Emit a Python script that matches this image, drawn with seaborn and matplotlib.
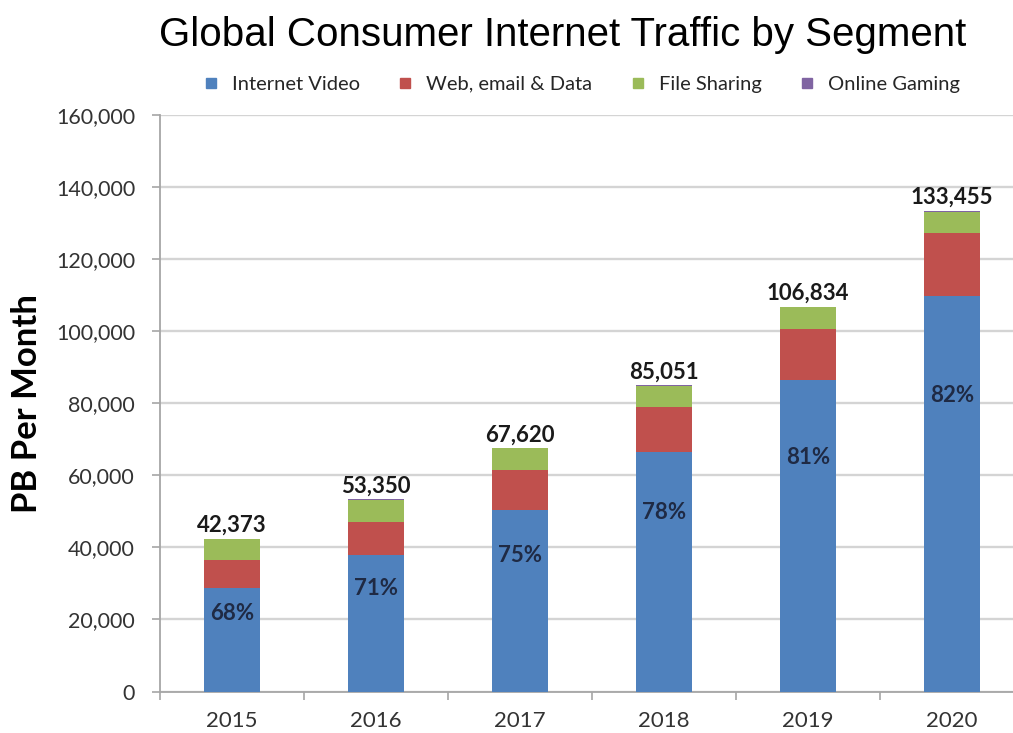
import numpy as np
import pandas as pd
import matplotlib
matplotlib.use("Agg")
import matplotlib.pyplot as plt
from matplotlib.lines import Line2D
from matplotlib.ticker import FuncFormatter
import seaborn as sns

# Consumer internet traffic, PB per month, by segment
years = ["2015", "2016", "2017", "2018", "2019", "2020"]
internet_video = [28800, 38000, 50500, 66400, 86600, 109700]
web_email_data = [7600, 9000, 11000, 12500, 14000, 17500]
file_sharing = [5900, 6250, 6000, 6000, 6050, 6000]
online_gaming = [73, 100, 120, 151, 184, 255]
segments = ["Internet Video", "Web, email & Data", "File Sharing", "Online Gaming"]
colors = ["#4F81BD", "#C0504D", "#9BBB59", "#8064A2"]

df = pd.DataFrame({
    "year": years,
    "Internet Video": internet_video,
    "Web, email & Data": web_email_data,
    "File Sharing": file_sharing,
    "Online Gaming": online_gaming,
})
cum = df[segments].cumsum(axis=1)
df["total"] = df[segments].sum(axis=1)

sns.set_theme(style="white")
plt.rcParams["font.family"] = ["Lato", "DejaVu Sans"]

fig = plt.figure(figsize=(10.13, 7.33), dpi=100)
ax = fig.add_axes([0.158, 0.0566, 0.853, 0.786])

# stacked bars: draw cumulative heights from the top segment down
for seg, col in reversed(list(zip(segments, colors))):
    sns.barplot(x=df["year"], y=cum[seg], color=col, width=0.39,
                saturation=1, linewidth=0, ax=ax, zorder=3)

ax.set_xlim(-0.5, 5.5)
ax.set_ylim(0, 160000)
ax.set_yticks(np.arange(0, 160001, 20000))
ax.yaxis.set_major_formatter(FuncFormatter(lambda v, p: f"{int(v):,}"))
ax.grid(axis="y", color="#D4D4D4", linewidth=1.7, zorder=0)
ax.set_axisbelow(True)

for s in ["top", "right"]:
    ax.spines[s].set_visible(False)
for s in ["left", "bottom"]:
    ax.spines[s].set_color("#A6A6A6")
    ax.spines[s].set_linewidth(1.3)

ax.tick_params(axis="y", which="major", length=6, width=1.2, color="#A6A6A6",
               labelsize=15.5, labelcolor="#333333", pad=12, left=True)
ax.tick_params(axis="x", which="major", length=0, labelsize=16,
               labelcolor="#333333", pad=14)
ax.set_xticks(np.arange(-0.5, 5.6, 1.0), minor=True)
ax.tick_params(axis="x", which="minor", length=6, width=1.2, color="#A6A6A6",
               bottom=True)

ax.set_xlabel("")
ax.set_ylabel("PB Per Month", fontsize=25, fontweight="bold", color="#000000",
              labelpad=9)

# totals above each bar, video share inside the blue segment
for i, row in df.iterrows():
    ax.annotate(f"{row['total']:,}", (i, row["total"]), xytext=(0, 2),
                textcoords="offset points", ha="center", va="bottom",
                fontsize=16, fontweight="bold", color="#1A1A1A", zorder=5)
    share = round(row["Internet Video"] / row["total"] * 100)
    ax.text(i, row["Internet Video"] * 0.75, f"{share}%", ha="center",
            va="center", fontsize=16, fontweight="bold", color="#1F2A44",
            zorder=5)

fig.text(0.555, 0.952, "Global Consumer Internet Traffic by Segment",
         ha="center", va="center", fontsize=29, color="#000000",
         family=["Liberation Sans", "DejaVu Sans"])

handles = [Line2D([0], [0], marker="s", linestyle="none", markersize=7,
                  markerfacecolor=c, markeredgecolor=c) for c in colors]
fig.legend(handles, segments, loc="center", bbox_to_anchor=(0.568, 0.885),
           ncol=4, frameon=False, fontsize=14.5, handletextpad=0.05,
           columnspacing=1.25, labelcolor="#262626")

fig.savefig("out.png", dpi=100)
